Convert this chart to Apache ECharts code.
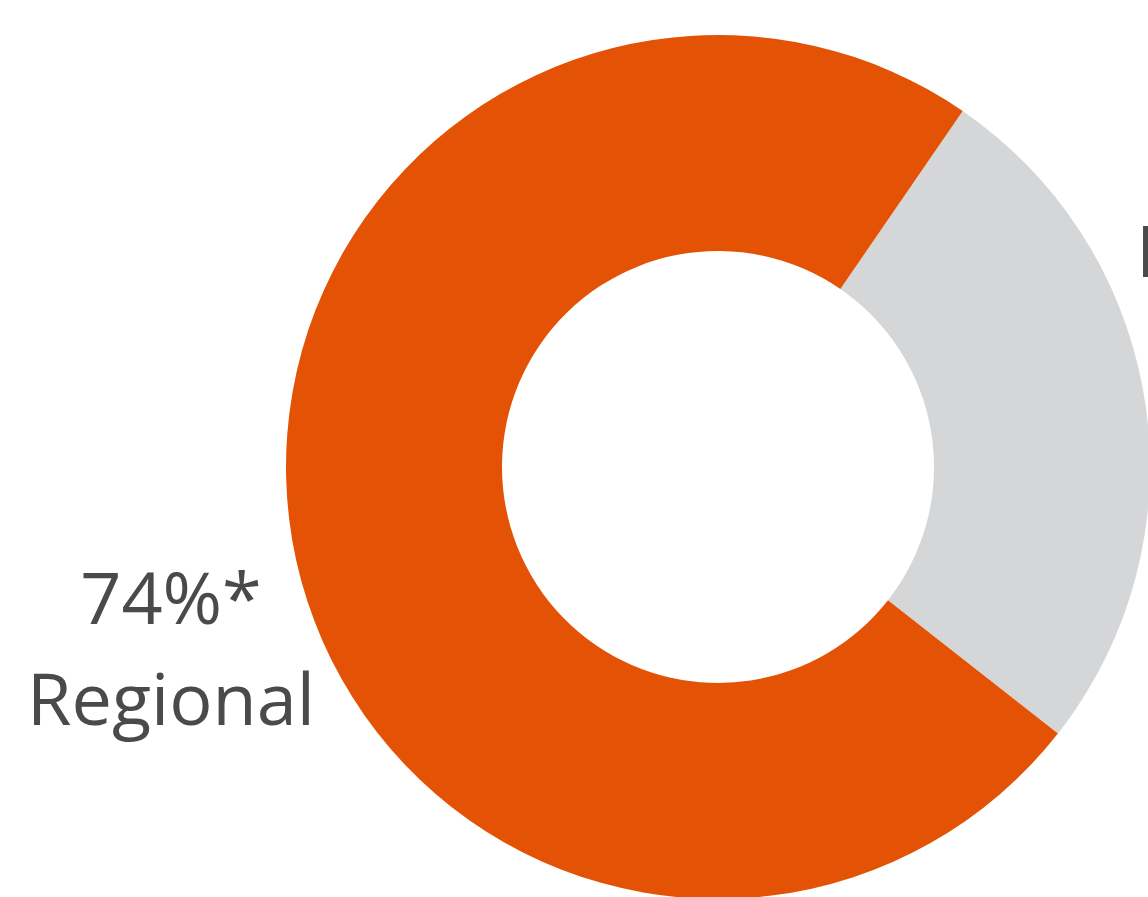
<!DOCTYPE html>
<html>
<head>
<meta charset="utf-8">
<script src="https://cdn.jsdelivr.net/npm/echarts@6/dist/echarts.min.js"></script>
<style>
html,body{margin:0;padding:0;background:#fff;}
#chart{width:1148px;height:897px;}
</style>
</head>
<body>
<div id="chart"></div>
<script>
const categories = ['Non-regional', 'Regional'];
const values = [26, 74];
const percentLabels = ['26%', '74%*'];
const colors = ['#D5D6D8', '#E35205'];

const FONT_FAMILY = 'Open Sans';
const FONT_SIZE = 72;
const FONT_WEIGHT = 400;

function textWidth(str) {
  const c = document.createElement('canvas').getContext('2d');
  c.font = FONT_WEIGHT + ' ' + FONT_SIZE + 'px "' + FONT_FAMILY + '"';
  return c.measureText(str).width;
}

const chart = echarts.init(document.getElementById('chart'), null, {renderer: 'canvas'});
const labelPos = [
  {x: 1136 + textWidth(categories[0]) / 2, y: 206},
  {x: 171, y: 654}
];
chart.setOption({
  animation: false,
  series: [{
    type: 'pie',
    center: [718, 467],
    radius: [216, 432],
    startAngle: 55.5,
    clockwise: true,
    silent: true,
    avoidLabelOverlap: false,
    data: categories.map((c, i) => ({
      name: c,
      value: values[i],
      itemStyle: {color: colors[i]},
      label: {formatter: percentLabels[i] + '\n' + c}
    })),
    label: {
      show: true,
      position: 'outside',
      color: '#4A4A4A',
      fontFamily: FONT_FAMILY,
      fontWeight: FONT_WEIGHT,
      fontSize: FONT_SIZE,
      lineHeight: 101,
      align: 'center',
      overflow: 'none'
    },
    labelLine: {show: false},
    labelLayout: function (p) {
      const pos = labelPos[p.dataIndex];
      return {x: pos.x, y: pos.y, align: 'center', verticalAlign: 'middle', hideOverlap: false, moveOverlap: null};
    }
  }]
});
</script>
</body>
</html>
